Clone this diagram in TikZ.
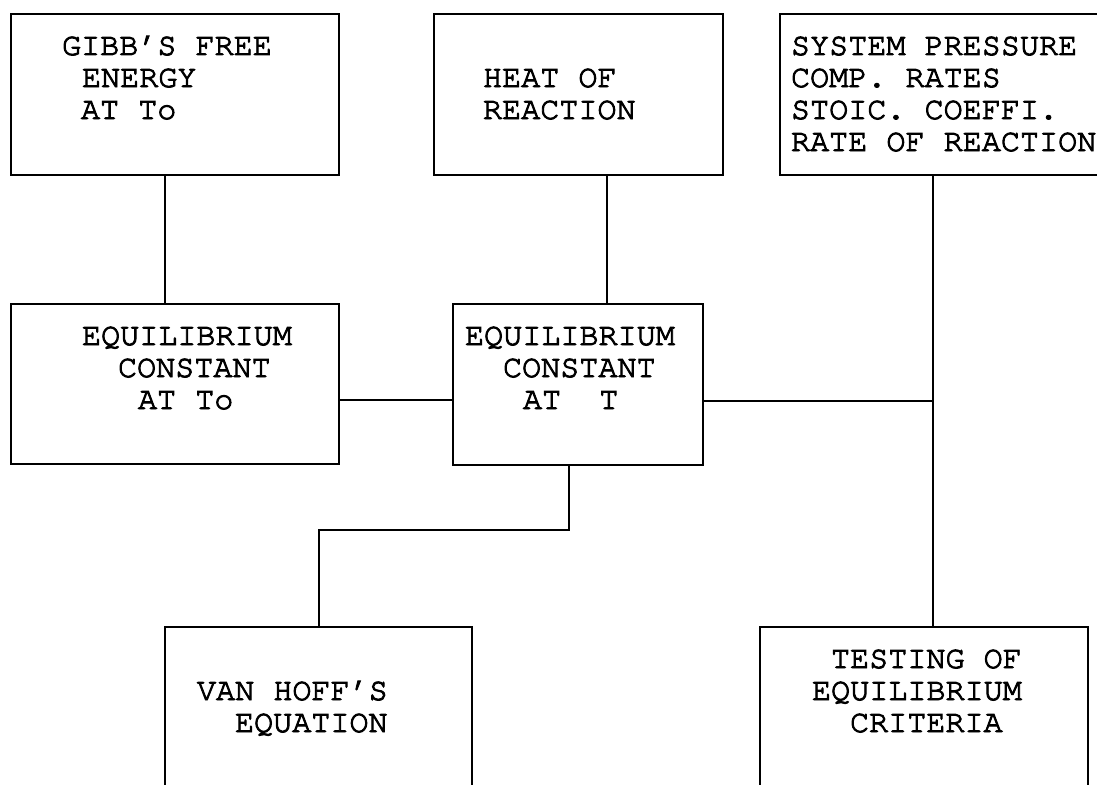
\documentclass[tikz,border=0pt]{standalone}
\usepackage{fontspec}
\newfontfamily\cur[FakeBold=3]{TeX Gyre Cursor}
\begin{document}
\begin{tikzpicture}[x=1pt,y=-1pt,
  box/.style={draw, line width=2pt, inner sep=0pt, outer sep=0pt},
  conn/.style={line width=2pt},
  lbl/.style={anchor=base west, inner sep=0pt, outer sep=0pt, font=\fontsize{31.8}{32}\selectfont\cur}]
\useasboundingbox (0,0) rectangle (1097,784);
\fill[white] (0,0) rectangle (1097,784);
% boxes
\node[box, minimum width=328pt, minimum height=161pt] (b1) at (175,94.5) {};
\node[box, minimum width=289pt, minimum height=161pt] (b2) at (578.5,94.5) {};
\node[box, minimum width=330pt, minimum height=161pt] (b3) at (945,94.5) {};
\node[box, minimum width=328pt, minimum height=160pt] (b4) at (175,384) {};
\node[box, minimum width=250pt, minimum height=161pt] (b5) at (578,384.5) {};
\node[box, minimum width=307pt, minimum height=173pt] (b6) at (318.5,713.5) {};
\node[box, minimum width=328pt, minimum height=173pt] (b7) at (924,713.5) {};
% texts
\node[lbl] (t1a) at (62,55) {GIBB’S FREE};
\node[lbl] (t1b) at (82,87) {ENERGY};
\node[lbl] (t1c) at (81,119) {AT To};
\node[lbl] (t2a) at (483,87) {HEAT OF};
\node[lbl] (t2b) at (483,119) {REACTION};
\node[lbl] (t3a) at (791,55) {SYSTEM PRESSURE};
\node[lbl] (t3b) at (791,87) {COMP. RATES};
\node[lbl] (t3c) at (791,119) {STOIC. COEFFI.};
\node[lbl] (t3d) at (791,151) {RATE OF REACTION};
\node[lbl] (t4a) at (82,345) {EQUILIBRIUM};
\node[lbl] (t4b) at (118,377) {CONSTANT};
\node[lbl] (t4c) at (138,409) {AT To};
\node[lbl] (t5a) at (465,345) {EQUILIBRIUM};
\node[lbl] (t5b) at (503,377) {CONSTANT};
\node[lbl] (t5c) at (523,409) {AT~~T};
\node[lbl] (t6a) at (197,700) {VAN HOFF’S};
\node[lbl] (t6b) at (235,732) {EQUATION};
\node[lbl] (t7a) at (831,668) {TESTING OF};
\node[lbl] (t7b) at (812,700) {EQUILIBRIUM};
\node[lbl] (t7c) at (850,732) {CRITERIA};
% junctions
\coordinate (j) at (933,401);
\coordinate (k) at (319,530);
% connectors
\draw[conn] ([xshift=-10pt]b1.south) -- ([xshift=-10pt]b4.north);
\draw[conn] ([xshift=28.5pt]b2.south) -- ([xshift=29pt]b5.north);
\draw[conn] ([yshift=-16pt]b4.east) -- ([yshift=-16pt]b4.east -| b5.west);
\draw[conn] (j -| b5.east) -- (j);
\draw[conn] (j |- b3.south) -- (j |- b7.north);
\draw[conn] ([xshift=-9pt]b5.south) |- (k) -- (k |- b6.north);
\end{tikzpicture}
\end{document}
